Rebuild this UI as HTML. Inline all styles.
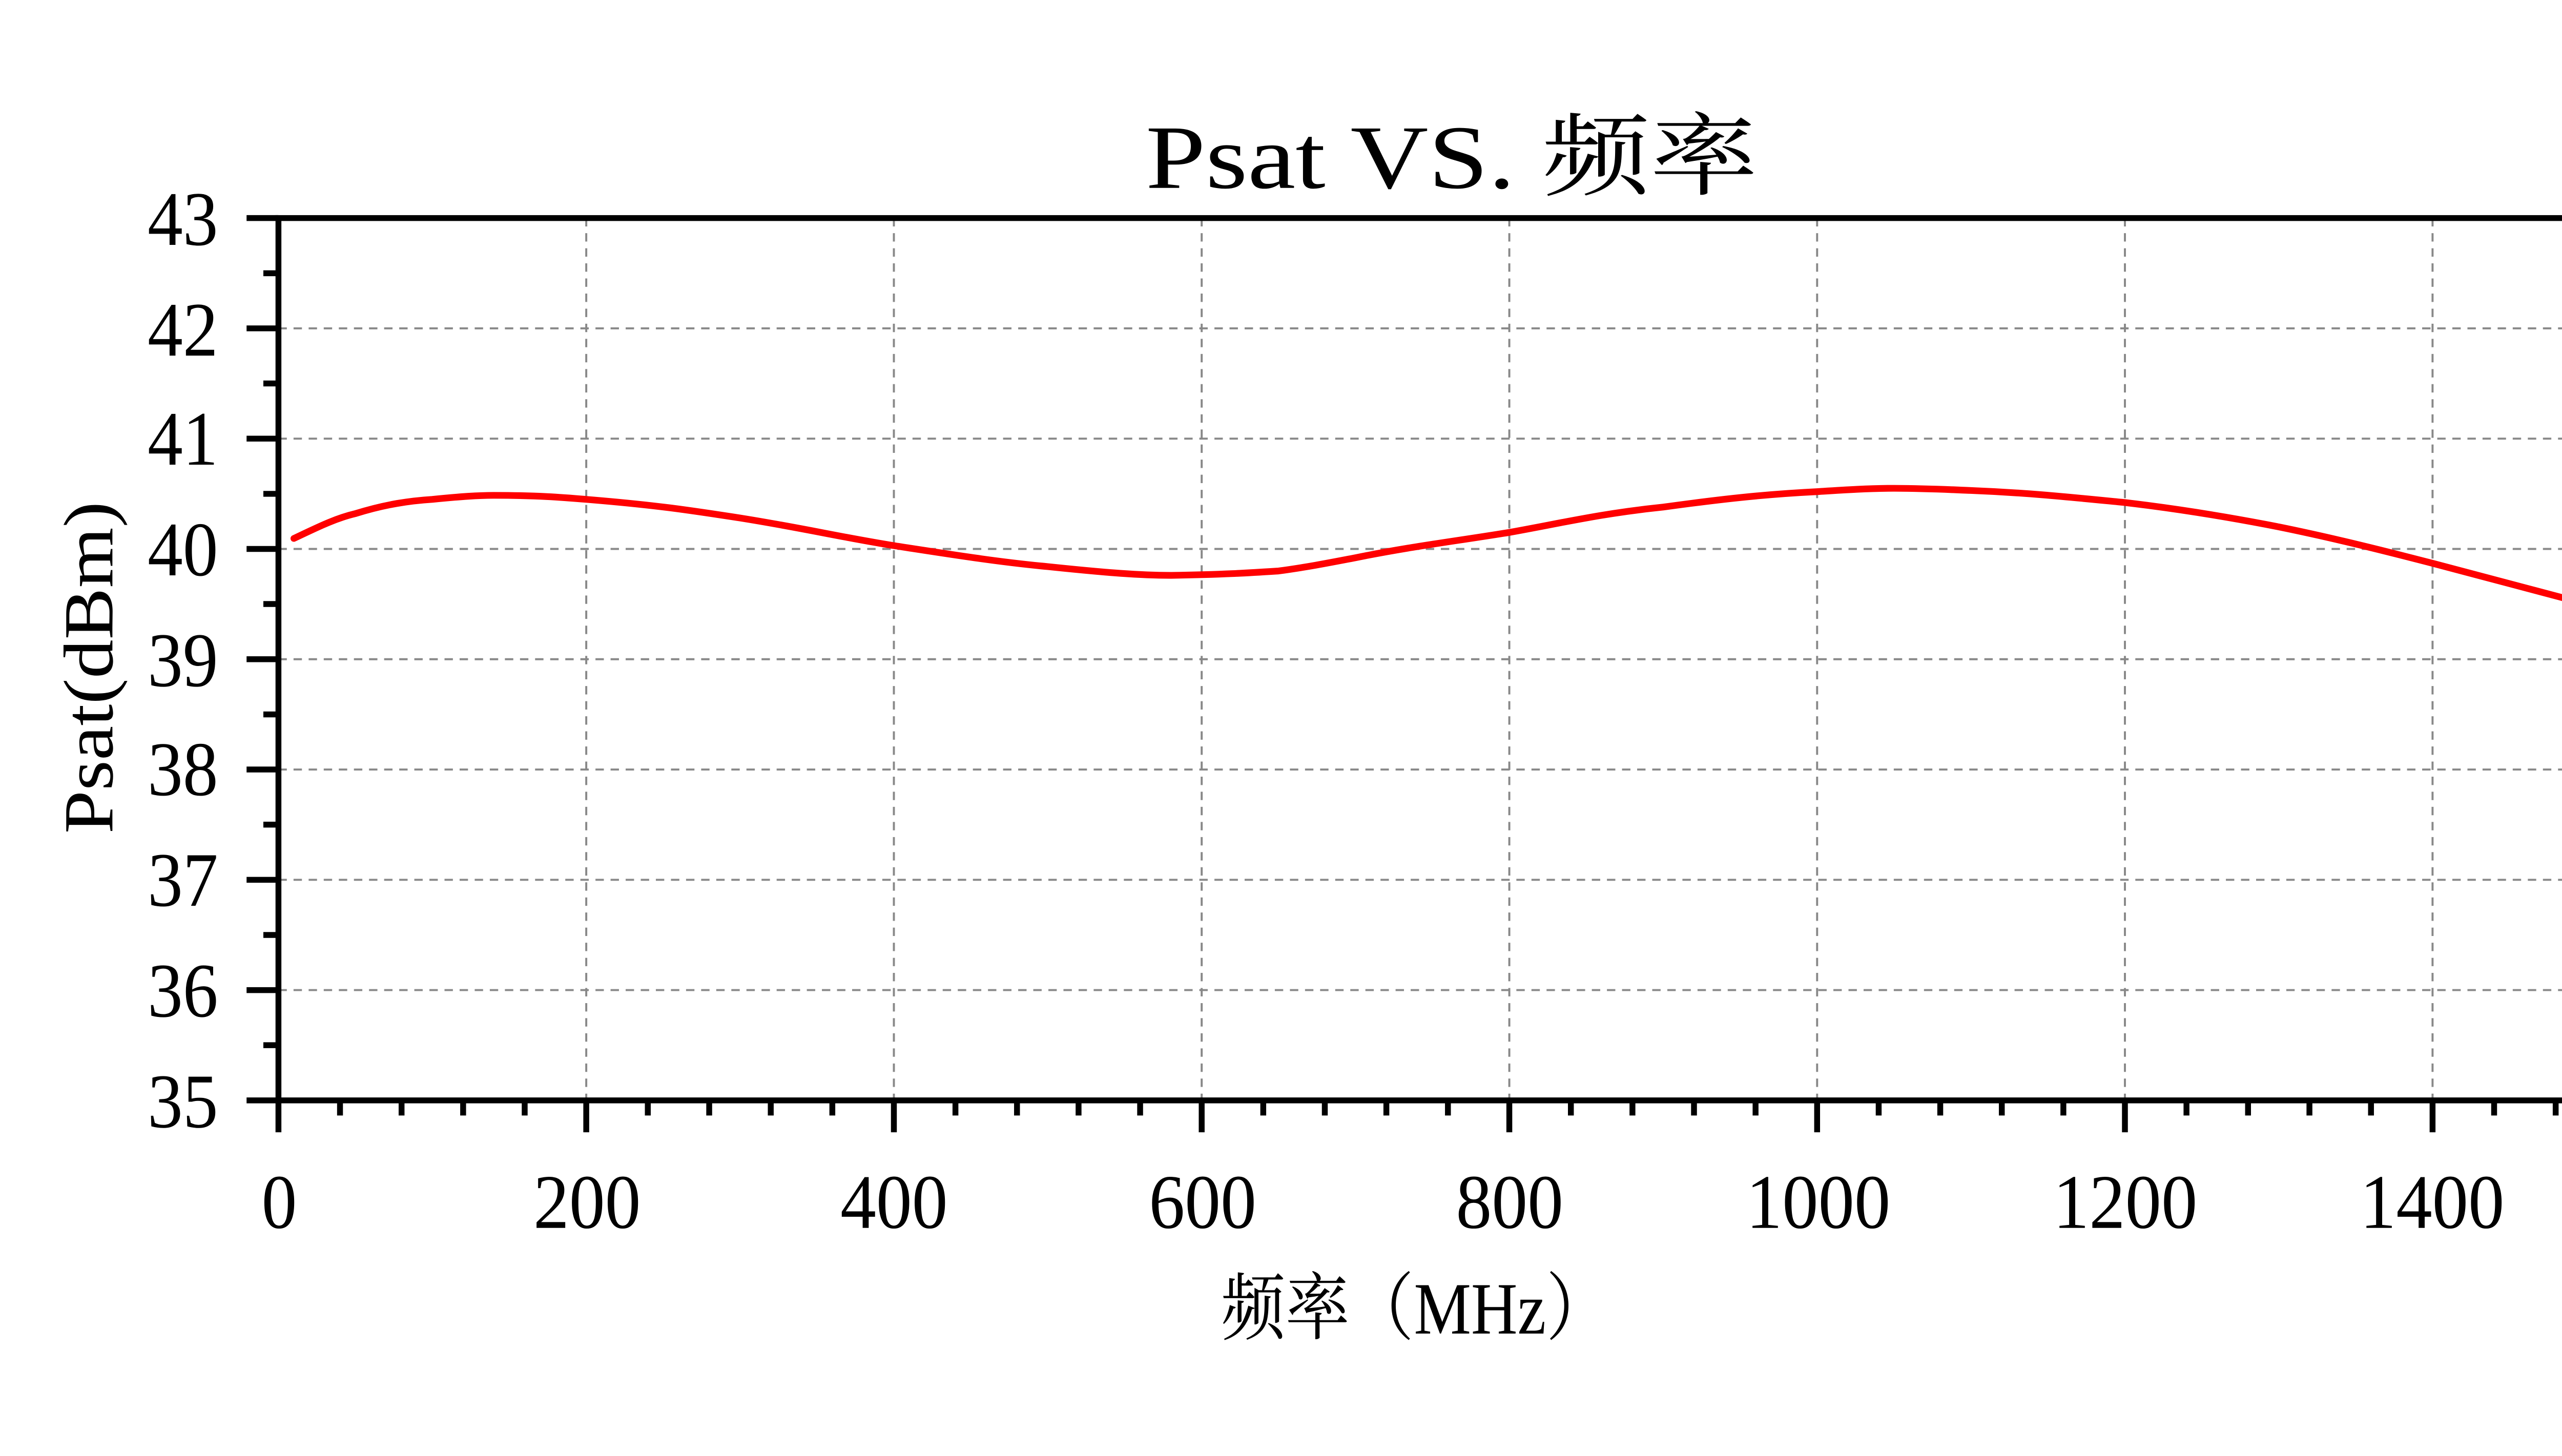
<!DOCTYPE html>
<html><head><meta charset="utf-8"><style>html,body{margin:0;padding:0;background:#fff;overflow:hidden}svg{display:block}</style></head>
<body>
<svg width="5133" height="2842" viewBox="0 0 1568 868" preserveAspectRatio="none" xmlns="http://www.w3.org/2000/svg">
<rect width="1568" height="868" fill="#fff"/>
<g stroke="#888" stroke-width="1.2" stroke-dasharray="5,4" fill="none">
<line x1="166" y1="195.75" x2="1542" y2="195.75"/>
<line x1="166" y1="261.5" x2="1542" y2="261.5"/>
<line x1="166" y1="327.25" x2="1542" y2="327.25"/>
<line x1="166" y1="393" x2="1542" y2="393"/>
<line x1="166" y1="458.75" x2="1542" y2="458.75"/>
<line x1="166" y1="524.5" x2="1542" y2="524.5"/>
<line x1="166" y1="590.25" x2="1542" y2="590.25"/>
<line x1="349.5" y1="130" x2="349.5" y2="656"/>
<line x1="532.9" y1="130" x2="532.9" y2="656"/>
<line x1="716.4" y1="130" x2="716.4" y2="656"/>
<line x1="899.8" y1="130" x2="899.8" y2="656"/>
<line x1="1083.3" y1="130" x2="1083.3" y2="656"/>
<line x1="1266.8" y1="130" x2="1266.8" y2="656"/>
<line x1="1450.2" y1="130" x2="1450.2" y2="656"/>
</g>
<path d="M175.2,321 C190,314 200,309 211.9,306.2 C230,300.5 245,298.5 257.7,297.7 C275,296 285,295.3 294.4,295.3 C320,295.3 335,296.5 349.5,297.7 C390,301 410,304 441.2,308.8 C480,315 500,320 532.9,325.3 C570,331 595,335 624.7,337.8 C660,341.5 680,343 698,343 C730,342.5 745,341.5 762.2,340.4 C780,338 795,335 808.1,332.5 C840,326 865,323 899.8,317.4 C930,312 955,306 991.6,302.3 C1030,297 1055,294.5 1083.3,293.1 C1100,292 1115,291.1 1129.2,291.1 C1150,291.2 1160,291.8 1175,292.4 C1210,293.8 1235,296.5 1266.8,299.6 C1300,303.5 1330,308.5 1358.5,314.1 C1390,320.5 1420,328 1450.2,335.8 C1480,343.5 1510,351.5 1542,360.1" fill="none" stroke="#f00" stroke-width="4" stroke-linecap="round"/>
<rect x="166" y="130" width="1376" height="526" fill="none" stroke="#000" stroke-width="3.5"/>
<g stroke="#000" stroke-width="3.5">
<path d="M147,130H166M147,195.75H166M147,261.5H166M147,327.25H166M147,393H166M147,458.75H166M147,524.5H166M147,590.25H166M147,656H166"/>
<path d="M157,162.9H166M157,228.6H166M157,294.4H166M157,360.1H166M157,425.9H166M157,491.6H166M157,557.4H166M157,623.1H166"/>
<path d="M166,656V675M349.5,656V675M532.9,656V675M716.4,656V675M899.8,656V675M1083.3,656V675M1266.8,656V675M1450.2,656V675"/>
<path d="M202.7,656V665M239.4,656V665M276.1,656V665M312.8,656V665M386.2,656V665M422.8,656V665M459.5,656V665M496.2,656V665M569.6,656V665M606.3,656V665M643,656V665M679.7,656V665M753.1,656V665M789.8,656V665M826.5,656V665M863.2,656V665M936.5,656V665M973.2,656V665M1009.9,656V665M1046.6,656V665M1120,656V665M1156.7,656V665M1193.4,656V665M1230.1,656V665M1303.5,656V665M1340.2,656V665M1376.8,656V665M1413.5,656V665M1486.9,656V665M1523.6,656V665"/>
</g>
<g font-family="Liberation Serif, serif" font-size="46" fill="#000">
<text x="88" y="146" textLength="42" lengthAdjust="spacingAndGlyphs">43</text>
<text x="88" y="212" textLength="42" lengthAdjust="spacingAndGlyphs">42</text>
<text x="88" y="277" textLength="42" lengthAdjust="spacingAndGlyphs">41</text>
<text x="88" y="343" textLength="42" lengthAdjust="spacingAndGlyphs">40</text>
<text x="88" y="409" textLength="42" lengthAdjust="spacingAndGlyphs">39</text>
<text x="88" y="474" textLength="42" lengthAdjust="spacingAndGlyphs">38</text>
<text x="88" y="540" textLength="42" lengthAdjust="spacingAndGlyphs">37</text>
<text x="88" y="606" textLength="42" lengthAdjust="spacingAndGlyphs">36</text>
<text x="88" y="672" textLength="42" lengthAdjust="spacingAndGlyphs">35</text>
</g>
<g font-family="Liberation Serif, serif" font-size="46" fill="#000">
<text x="156" y="732" textLength="21" lengthAdjust="spacingAndGlyphs">0</text>
<text x="318" y="732" textLength="64" lengthAdjust="spacingAndGlyphs">200</text>
<text x="501" y="732" textLength="64" lengthAdjust="spacingAndGlyphs">400</text>
<text x="685" y="732" textLength="64" lengthAdjust="spacingAndGlyphs">600</text>
<text x="868" y="732" textLength="64" lengthAdjust="spacingAndGlyphs">800</text>
<text x="1041" y="732" textLength="86" lengthAdjust="spacingAndGlyphs">1000</text>
<text x="1224" y="732" textLength="86" lengthAdjust="spacingAndGlyphs">1200</text>
<text x="1407" y="732" textLength="86" lengthAdjust="spacingAndGlyphs">1400</text>
</g>
<text x="683" y="112" textLength="365" lengthAdjust="spacingAndGlyphs" font-family="Liberation Serif, 'Noto Serif CJK SC', serif" font-size="54" fill="#000">Psat VS. 频率</text>
<text x="728" y="795" textLength="232" lengthAdjust="spacingAndGlyphs" font-family="Liberation Serif, 'Noto Serif CJK SC', serif" font-size="44" fill="#000">频率（MHz）</text>
<text transform="translate(67,497) rotate(-90)" textLength="198" lengthAdjust="spacingAndGlyphs" font-family="Liberation Serif, serif" font-size="42" fill="#000">Psat(dBm)</text>
</svg>
</body></html>
